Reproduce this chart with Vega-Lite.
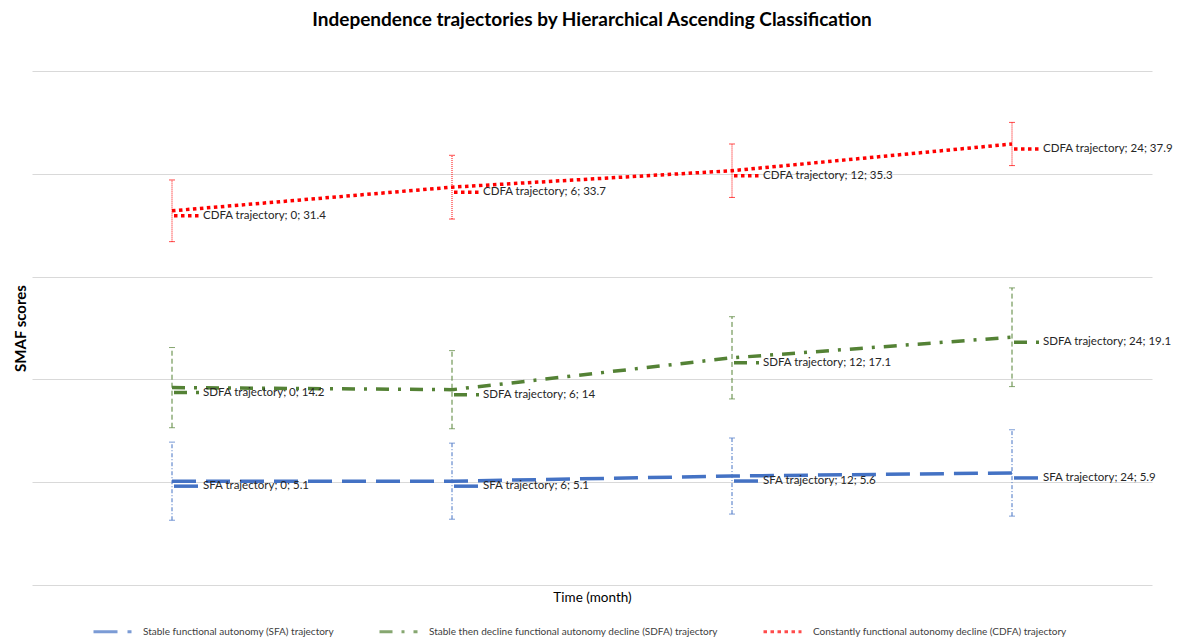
{
  "$schema": "https://vega.github.io/schema/vega-lite/v6.json",
  "width": 1120,
  "height": 514,
  "autosize": "none",
  "padding": {"left": 32, "top": 71, "right": 27, "bottom": 56},
  "background": "white",
  "config": {"view": {"stroke": null}, "font": "Lato"},
  "title": {"text": "Independence trajectories by Hierarchical Ascending Classification", "fontSize": 19, "fontWeight": "bold", "font": "Lato", "color": "#000000", "anchor": "middle", "frame": "group", "offset": 41},
  "data": {"values": [
    {"series": "Stable functional autonomy (SFA) trajectory", "time": "0", "value": 5.1, "lo": 1.3, "hi": 8.9, "label": "SFA trajectory; 0; 5.1"},
    {"series": "Stable functional autonomy (SFA) trajectory", "time": "6", "value": 5.1, "lo": 1.4, "hi": 8.8, "label": "SFA trajectory; 6; 5.1"},
    {"series": "Stable functional autonomy (SFA) trajectory", "time": "12", "value": 5.6, "lo": 1.9, "hi": 9.3, "label": "SFA trajectory; 12; 5.6"},
    {"series": "Stable functional autonomy (SFA) trajectory", "time": "24", "value": 5.9, "lo": 1.7, "hi": 10.1, "label": "SFA trajectory; 24; 5.9"},
    {"series": "Stable then decline functional autonomy decline (SDFA) trajectory", "time": "0", "value": 14.2, "lo": 10.3, "hi": 18.1, "label": "SDFA trajectory; 0; 14.2"},
    {"series": "Stable then decline functional autonomy decline (SDFA) trajectory", "time": "6", "value": 14.0, "lo": 10.2, "hi": 17.8, "label": "SDFA trajectory; 6; 14"},
    {"series": "Stable then decline functional autonomy decline (SDFA) trajectory", "time": "12", "value": 17.1, "lo": 13.1, "hi": 21.1, "label": "SDFA trajectory; 12; 17.1"},
    {"series": "Stable then decline functional autonomy decline (SDFA) trajectory", "time": "24", "value": 19.1, "lo": 14.3, "hi": 23.9, "label": "SDFA trajectory; 24; 19.1"},
    {"series": "Constantly functional autonomy decline (CDFA) trajectory", "time": "0", "value": 31.4, "lo": 28.4, "hi": 34.4, "label": "CDFA trajectory; 0; 31.4"},
    {"series": "Constantly functional autonomy decline (CDFA) trajectory", "time": "6", "value": 33.7, "lo": 30.6, "hi": 36.8, "label": "CDFA trajectory; 6; 33.7"},
    {"series": "Constantly functional autonomy decline (CDFA) trajectory", "time": "12", "value": 35.3, "lo": 32.7, "hi": 37.9, "label": "CDFA trajectory; 12; 35.3"},
    {"series": "Constantly functional autonomy decline (CDFA) trajectory", "time": "24", "value": 37.9, "lo": 35.8, "hi": 40.0, "label": "CDFA trajectory; 24; 37.9"}
  ]},
  "encoding": {
    "x": {"field": "time", "type": "ordinal", "sort": ["0", "6", "12", "24"],
      "scale": {"type": "point", "padding": 0.5},
      "axis": {"title": "Time (month)", "labels": false, "ticks": false, "domain": false, "titleFontSize": 13.5, "titleFontWeight": "normal", "titleFont": "Lato", "titleColor": "#000000", "titlePadding": 5}},
    "color": {"field": "series", "type": "nominal",
      "scale": {"domain": ["Stable functional autonomy (SFA) trajectory", "Stable then decline functional autonomy decline (SDFA) trajectory", "Constantly functional autonomy decline (CDFA) trajectory"], "range": ["#4472C4", "#548235", "#FF0000"]},
      "legend": {"title": null, "orient": "none", "legendX": 60, "legendY": 540, "direction": "horizontal", "symbolType": "stroke", "symbolSize": 1444, "symbolStrokeWidth": 3, "labelFontSize": 10, "labelFont": "Lato", "labelColor": "#404040", "labelOffset": 10, "columnPadding": 39, "labelLimit": 500}}
  },
  "layer": [
    {
      "mark": {"type": "rule", "strokeWidth": 1, "strokeDash": [4, 2, 1, 2]},
      "transform": [{"filter": "indexof(datum.series, '(SFA)') >= 0"}],
      "encoding": {"y": {"field": "lo", "type": "quantitative"}, "y2": {"field": "hi"}}
    },
    {
      "mark": {"type": "rule", "strokeWidth": 1, "strokeDash": [5, 3]},
      "transform": [{"filter": "indexof(datum.series, '(SDFA)') >= 0"}],
      "encoding": {"y": {"field": "lo", "type": "quantitative"}, "y2": {"field": "hi"}}
    },
    {
      "mark": {"type": "rule", "strokeWidth": 1, "strokeDash": [1, 1]},
      "transform": [{"filter": "indexof(datum.series, '(CDFA)') >= 0"}],
      "encoding": {"y": {"field": "lo", "type": "quantitative"}, "y2": {"field": "hi"}}
    },
    {
      "mark": {"type": "tick", "size": 6, "thickness": 1},
      "encoding": {"y": {"field": "lo", "type": "quantitative"}}
    },
    {
      "mark": {"type": "tick", "size": 6, "thickness": 1},
      "encoding": {"y": {"field": "hi", "type": "quantitative"}}
    },
    {
      "mark": {"type": "line", "strokeWidth": 3.5},
      "encoding": {
        "y": {"field": "value", "type": "quantitative",
          "scale": {"domain": [-5, 45], "nice": false, "zero": false},
          "axis": {"title": "SMAF scores", "values": [-5, 5, 15, 25, 35, 45], "labels": false, "ticks": false, "domain": false, "gridColor": "#d9d9d9", "gridWidth": 1, "titleFontSize": 15, "titleFont": "Lato", "titleFontWeight": "bold", "titleColor": "#000000", "titlePadding": 4}},
        "strokeDash": {"field": "series", "type": "nominal",
          "scale": {"domain": ["Stable functional autonomy (SFA) trajectory", "Stable then decline functional autonomy decline (SDFA) trajectory", "Constantly functional autonomy decline (CDFA) trajectory"], "range": [[24, 10], [13, 9, 3, 9], [3.5, 3.5]]},
          "legend": {"title": null, "orient": "none", "legendX": 60, "legendY": 540, "direction": "horizontal", "symbolType": "stroke", "symbolSize": 1444, "symbolStrokeWidth": 3, "labelFontSize": 10, "labelFont": "Lato", "labelColor": "#404040", "labelOffset": 10, "columnPadding": 39, "labelLimit": 500}}
      }
    },
    {
      "mark": {"type": "rule", "strokeWidth": 3.5, "xOffset": 2, "x2Offset": 28, "yOffset": 5},
      "encoding": {
        "y": {"field": "value", "type": "quantitative"},
        "x2": {"field": "time"},
        "strokeDash": {"field": "series", "type": "nominal"}
      }
    },
    {
      "mark": {"type": "text", "align": "left", "baseline": "middle", "dx": 31, "dy": 5, "fontSize": 11.5, "font": "Lato", "color": "#262626"},
      "encoding": {
        "y": {"field": "value", "type": "quantitative"},
        "text": {"field": "label"},
        "color": {"value": "#262626"}
      }
    }
  ]
}
